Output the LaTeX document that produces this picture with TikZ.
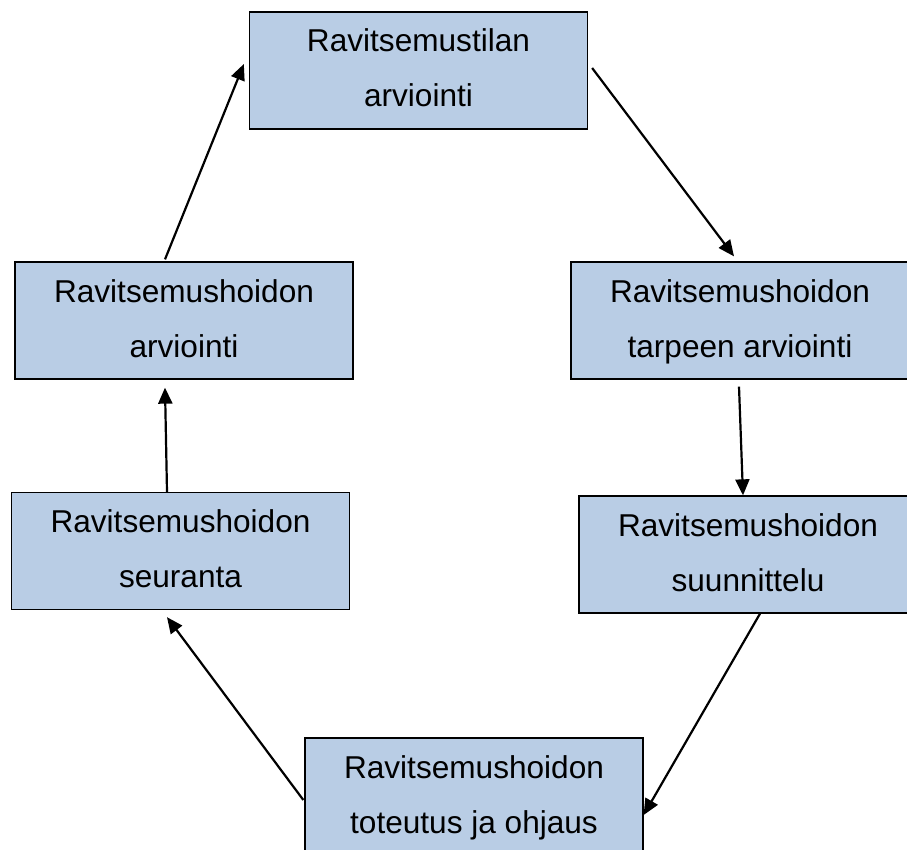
\documentclass[tikz,border=0pt]{standalone}
\usepackage{fontspec}
\setmainfont{Liberation Sans}
\usetikzlibrary{arrows.meta}
\definecolor{boxfill}{HTML}{B9CDE5}
\tikzset{
  stepbox/.style={draw=black, line width=1.3pt, fill=boxfill, minimum width=338pt, minimum height=117pt,
    inner sep=0pt, align=center, text height=77pt, text depth=4pt,
    font=\fontsize{31.6}{55}\selectfont},
  arr/.style={line width=2.2pt, -{Triangle[length=16pt,width=14pt]}}
}
\begin{document}
\begin{tikzpicture}[x=1pt,y=-1pt]
\useasboundingbox (0,0) rectangle (907,850);
\clip (0,0) rectangle (907,850);
\node[stepbox] (top) at (418.5,70.5) {Ravitsemustilan\\arviointi};
\node[stepbox] (lm) at (184,320.5) {Ravitsemushoidon\\arviointi};
\node[stepbox] (rm) at (740,320.5) {Ravitsemushoidon\\tarpeen arviointi};
\node[stepbox] (ll) at (180.5,551) {Ravitsemushoidon\\seuranta};
\node[stepbox] (rl) at (748,554.5) {Ravitsemushoidon\\suunnittelu};
\node[stepbox] (bot) at (474,796.5) {Ravitsemushoidon\\toteutus ja ohjaus};
\draw[arr] ([xshift=4pt,yshift=2.5pt]top.east) -- ([xshift=-6pt,yshift=5pt]rm.north);
\draw[arr] ([xshift=-1pt,yshift=-7pt]rm.south) -- ([xshift=-5pt]rl.north);
\draw[arr] ([xshift=12pt]rl.south) -- ([yshift=-18.5pt]bot.east);
\draw[arr] ([xshift=-1pt,yshift=-3.5pt]bot.west) -- ([xshift=-13.5pt,yshift=-7pt]ll.south);
\draw[arr] ([xshift=-13.5pt]ll.north) -- ([xshift=-19pt,yshift=-8pt]lm.south);
\draw[arr] ([xshift=-19pt,yshift=2pt]lm.north) -- ([xshift=-5pt,yshift=6.5pt]top.west);
\end{tikzpicture}
\end{document}
